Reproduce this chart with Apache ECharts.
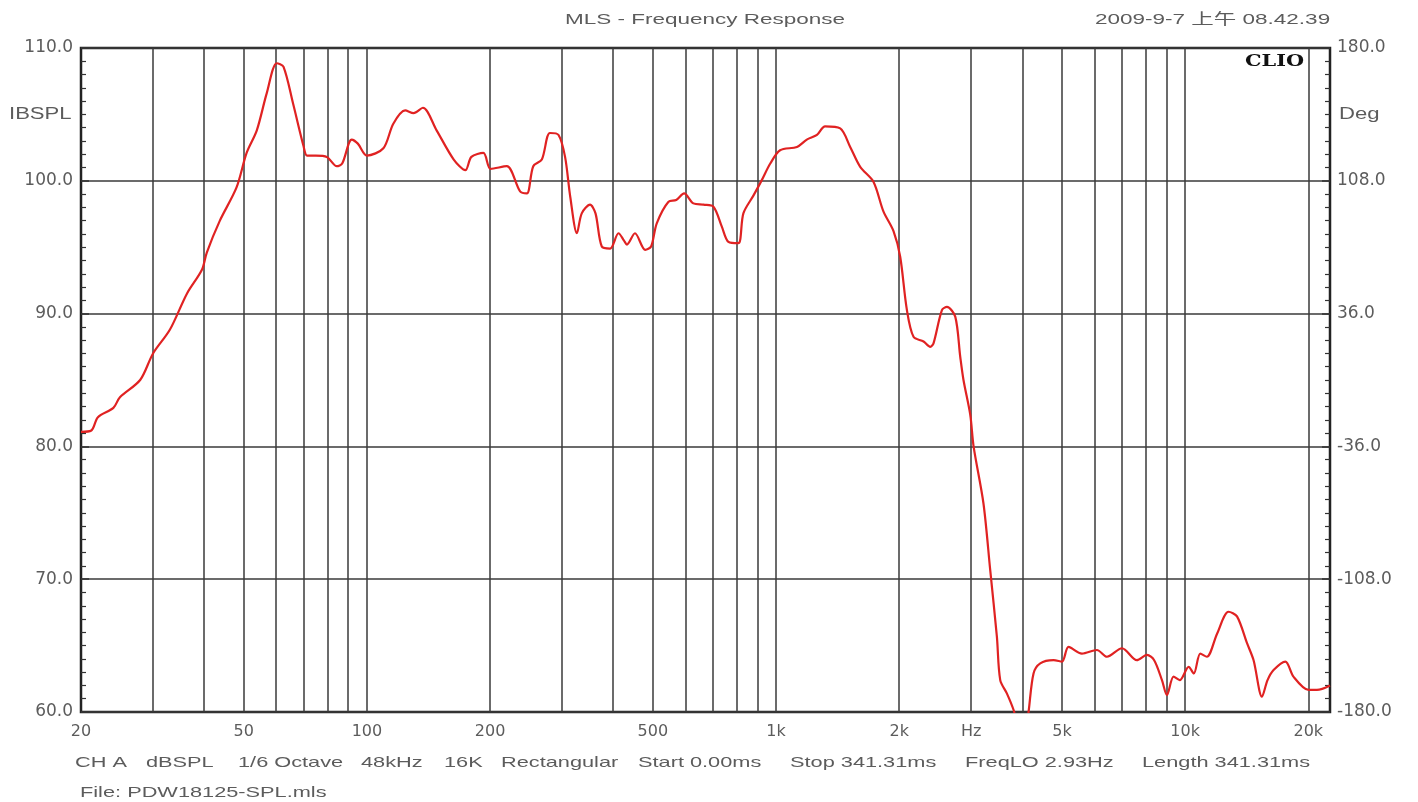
<!DOCTYPE html>
<html>
<head>
<meta charset="utf-8">
<script src="https://cdn.jsdelivr.net/npm/echarts@6/dist/echarts.min.js"></script>
<style>html,body{margin:0;padding:0;background:#fff}#c{width:1418px;height:802px}</style>
</head>
<body>
<div id="c"></div>
<script>
// Frequency (Hz) and SPL (dB)
const freqHz = [20,21.2,22,24,24.9,27.9,30,33,36.3,39.5,40.6,43.7,48,50.8,53.8,56.9,60.2,62.5,66,70,71.4,75,79.8,84.4,87,91.8,95,100,109.7,116,124,130,137,148,163,174,180,192.6,200.6,219.7,236.8,246,255,267.6,280,294,305,314,326,335,351,362,375,393,412,425,432,452,479,495,511,546,570,596,628,665,703,737,765,809,832,881,923,968,1023,1125,1189,1259,1318,1435,1518,1606,1730,1830,1938,2011,2088,2168,2294,2382,2426,2544,2617,2742,2820,2872,2983,3040,3214,3338,3466,3532,3666,3808,3950,4080,4142,4260,4424,4768,5000,5188,5594,6086,6440,7008,7622,8066,8400,8777,9026,9370,9700,10200,10500,10890,11300,11970,12770,13390,14160,14700,15410,15900,16450,17580,18400,20030,21000,22600];
const splDb = [81.1,81.2,82.2,82.9,83.7,85.0,87.0,88.8,91.5,93.3,94.6,97.0,99.5,102.1,103.8,106.6,108.85,108.6,105.8,102.6,101.9,101.9,101.8,101.1,101.3,103.1,102.8,101.9,102.45,104.3,105.3,105.1,105.5,103.8,101.6,100.8,101.8,102.1,100.9,101.1,99.2,99.05,101.1,101.6,103.6,103.45,101.8,98.8,96.05,97.55,98.2,97.55,95.05,94.9,96.05,95.5,95.2,96.05,94.8,95.05,96.8,98.43,98.55,99.05,98.3,98.2,98.05,96.55,95.4,95.3,97.55,98.9,100.05,101.3,102.3,102.55,103.1,103.45,104.1,103.95,102.55,101.05,99.93,97.7,96.2,94.3,90.3,88.25,87.9,87.5,87.76,90.27,90.5,89.77,86.75,85.0,82.4,80.0,75.7,70.7,65.67,62.4,61.4,60.15,58.5,58.8,60,62.9,63.66,63.9,63.8,64.9,64.4,64.67,64.16,64.8,63.9,64.3,63.9,62.4,61.28,62.66,62.4,63.4,62.9,64.4,64.16,65.9,67.55,67.2,65.2,63.9,61.15,62.4,63.16,63.8,62.66,61.66,61.66,62.0];

const gridFreqs = [30,40,50,60,70,80,90,100,200,300,400,500,600,700,800,900,1000,2000,3000,4000,5000,6000,7000,8000,9000,10000,20000];
const labelFreqs = [20,50,100,200,500,1000,2000,3000,5000,10000,20000];
const labelTexts = ['20','50','100','200','500','1k','2k','Hz','5k','10k','20k'];

const xMinHz = 20, xMaxHz = 22600;
const leftMin = 60, leftMax = 110, leftStep = 10;
const rightMin = -180, rightMax = 180, rightStep = 72;

const L = Math.log10;
const data = freqHz.map((f, i) => [L(f), splDb[i]]);
const labelLogs = labelFreqs.map(L);

const txt = '#5c5c5c';
const font = '"Liberation Sans", Arial, sans-serif';
const axFont = '"DejaVu Sans", sans-serif';
const bottomItems = [
  ['CH A',75],['dBSPL',146],['1/6 Octave',238],['48kHz',361],['16K',444],['Rectangular',501],
  ['Start 0.00ms',638],['Stop 341.31ms',790],['FreqLO 2.93Hz',965],['Length 341.31ms',1142]
];

const SX = 1.45;
const graphics = [
  {type:'text', x:565, y:12, scaleX:1.5, style:{text:'MLS - Frequency Response', fill:txt, font:'15px '+font}},
  {type:'text', x:1095, y:12, scaleX:1.5, style:{text:'2009-9-7 上午 08.42.39', fill:txt, font:'15px "Liberation Sans", "Noto Sans CJK SC", sans-serif'}},
  {type:'text', x:9, y:107, scaleX:1.38, style:{text:'IBSPL', fill:txt, font:'16px '+font}},
  {type:'text', x:1339, y:107, scaleX:1.38, style:{text:'Deg', fill:txt, font:'16px '+font}},
  {type:'text', x:1245, y:54, scaleX:1.3, style:{text:'CLIO', fill:'#111', font:'bold 16px "DejaVu Serif", serif'}},
  {type:'text', x:80, y:785, scaleX:SX, style:{text:'File: PDW18125-SPL.mls', fill:txt, font:'15px '+font}}
];
bottomItems.forEach(([t,x]) => graphics.push({type:'text', x:x, y:755, scaleX:SX, style:{text:t, fill:txt, font:'15px '+font}}));

const chart = echarts.init(document.getElementById('c'));
chart.setOption({
  animation:false,
  backgroundColor:'#fff',
  grid:{left:81, right:88, top:48, bottom:90, show:true, borderColor:'#222', borderWidth:2.5, backgroundColor:'transparent'},
  xAxis:{
    type:'value', min:L(xMinHz), max:L(xMaxHz),
    axisLine:{show:false},
    axisTick:{show:false, customValues:gridFreqs.map(L)},
    splitLine:{show:true, lineStyle:{color:'#3a3a3a', width:1.5}},
    axisLabel:{
      customValues:labelLogs, color:txt, fontSize:16, fontFamily:axFont, margin:12,
      formatter:(v)=>{ for(let i=0;i<labelLogs.length;i++){ if(Math.abs(labelLogs[i]-v)<1e-6) return labelTexts[i]; } return ''; }
    }
  },
  yAxis:[
    {
      type:'value', position:'left', min:leftMin, max:leftMax, interval:leftStep,
      axisLine:{show:false},
      axisTick:{show:true, inside:true, length:8, lineStyle:{color:'#333', width:1.5}},
      minorTick:{show:true, splitNumber:10, length:5, lineStyle:{color:'#333', width:1.2}},
      splitLine:{show:true, lineStyle:{color:'#3a3a3a', width:1.5}},
      axisLabel:{color:txt, fontSize:17, fontFamily:axFont, margin:8, formatter:(v)=>v.toFixed(1)}
    },
    {
      type:'value', position:'right', min:rightMin, max:rightMax, interval:rightStep,
      axisLine:{show:false},
      axisTick:{show:true, inside:true, length:8, lineStyle:{color:'#333', width:1.5}},
      minorTick:{show:true, splitNumber:10, length:5, lineStyle:{color:'#333', width:1.2}},
      splitLine:{show:false},
      axisLabel:{color:txt, fontSize:17, fontFamily:axFont, margin:7, formatter:(v)=>v.toFixed(1)}
    }
  ],
  series:[{
    type:'line', yAxisIndex:0, data:data, showSymbol:false, clip:true, smooth:0.3,
    lineStyle:{color:'#e02222', width:2.2}, z:5
  }],
  graphic:graphics
});
</script>
</body>
</html>
